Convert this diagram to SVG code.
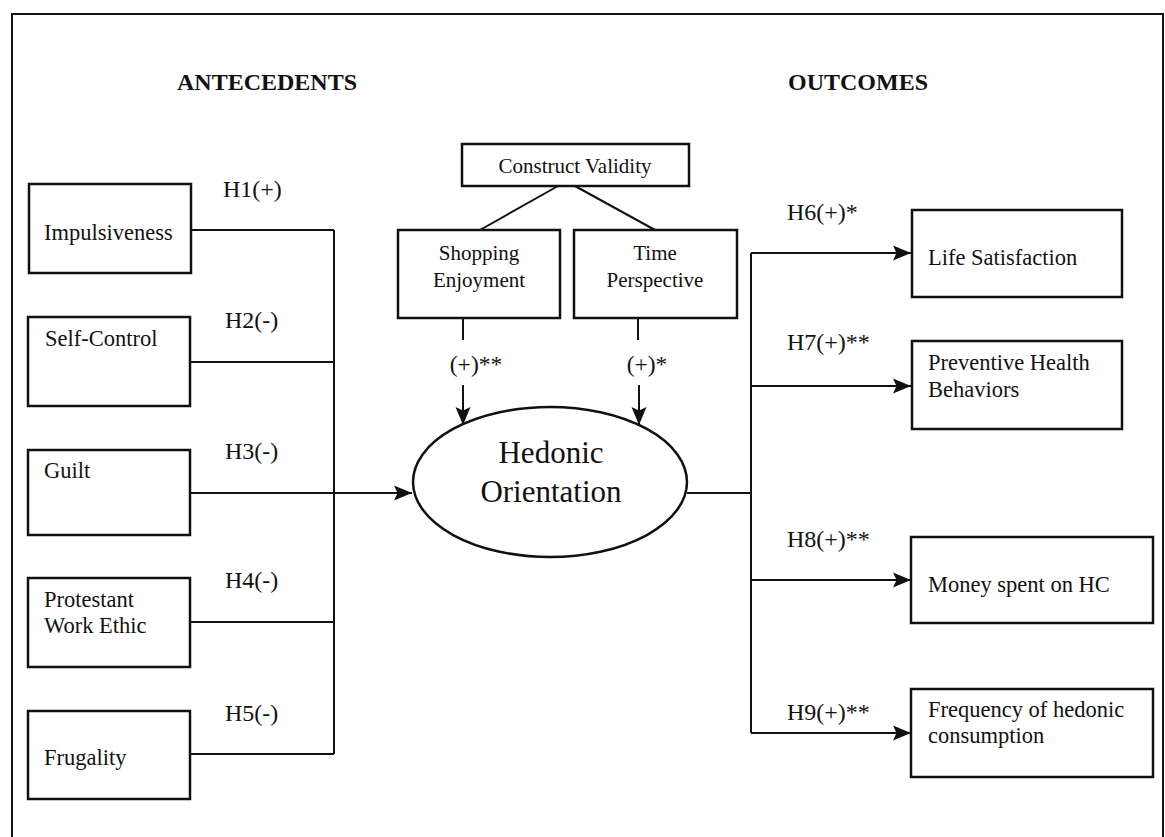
<svg xmlns="http://www.w3.org/2000/svg" width="1165" height="837" viewBox="0 0 1165 837">
<style>
.box{fill:#fff;stroke:#111;stroke-width:2.5}
.ln{fill:none;stroke:#111;stroke-width:2}
text{font-family:"Liberation Serif","Times New Roman",serif;fill:#111}
.lbl{font-size:22.5px}
.mid{font-size:21px;text-anchor:middle}
.hyp{font-size:24px}
.hd{font-size:24px;font-weight:bold}
.ell{font-size:31px;text-anchor:middle}
</style>
<defs>
<marker id="arr" markerUnits="userSpaceOnUse" markerWidth="20" markerHeight="18" refX="18" refY="9" orient="auto">
<path d="M0,1.5 L18,9 L0,16.5 L3.5,9 Z" fill="#111"/>
</marker>
</defs>
<rect width="1165" height="837" fill="#fff"/>
<path class="ln" d="M12,837 V14 H1163 V837"/>
<text class="hd" x="177" y="90">ANTECEDENTS</text>
<text class="hd" x="788" y="90">OUTCOMES</text>

<g id="connectors">
<path class="ln" d="M190,230 H334 M190,362 H334 M190,622 H334 M190,754 H334 M334,230 V754"/>
<path class="ln" d="M190,493 H412" marker-end="url(#arr)"/>
<path class="ln" d="M558,186 L480,230 M575,186 L655,230"/>
<path class="ln" d="M463,318 V340 M638,318 V340"/>
<path class="ln" d="M463,385 V425" marker-end="url(#arr)"/>
<path class="ln" d="M639,385 V425" marker-end="url(#arr)"/>
<path class="ln" d="M687,493 H751 M751,253 V733"/>
<path class="ln" d="M751,253 H911" marker-end="url(#arr)"/>
<path class="ln" d="M751,386 H911" marker-end="url(#arr)"/>
<path class="ln" d="M751,580 H911" marker-end="url(#arr)"/>
<path class="ln" d="M751,733 H911" marker-end="url(#arr)"/>
<text class="hyp" x="223" y="197">H1(+)</text>
<text class="hyp" x="225" y="328">H2(-)</text>
<text class="hyp" x="225" y="459">H3(-)</text>
<text class="hyp" x="225" y="588">H4(-)</text>
<text class="hyp" x="225" y="721">H5(-)</text>
<text class="hyp" x="787" y="220">H6(+)*</text>
<text class="hyp" x="787" y="350">H7(+)**</text>
<text class="hyp" x="787" y="547">H8(+)**</text>
<text class="hyp" x="787" y="720">H9(+)**</text>
<text class="hyp" x="476" y="372" text-anchor="middle" style="font-size:23.5px">(+)**</text>
<text class="hyp" x="647" y="372" text-anchor="middle" style="font-size:23.5px">(+)*</text>
</g>

<g id="impulsiveness"><rect class="box" x="29" y="184" width="162" height="89"/><text class="lbl" x="44" y="240">Impulsiveness</text></g>
<g id="self-control"><rect class="box" x="28" y="317" width="162" height="89"/><text class="lbl" x="45" y="346">Self-Control</text></g>
<g id="guilt"><rect class="box" x="28" y="450" width="162" height="85"/><text class="lbl" x="44" y="478">Guilt</text></g>
<g id="protestant"><rect class="box" x="28" y="578" width="162" height="89"/><text class="lbl" x="44" y="607">Protestant</text><text class="lbl" x="44" y="633">Work Ethic</text></g>
<g id="frugality"><rect class="box" x="28" y="711" width="162" height="88"/><text class="lbl" x="44" y="765">Frugality</text></g>

<g id="construct-validity"><rect class="box" x="462" y="144" width="227" height="42"/><text class="mid" x="575" y="173">Construct Validity</text></g>
<g id="shopping-enjoyment"><rect class="box" x="398" y="230" width="162" height="88"/><text class="mid" x="479" y="260">Shopping</text><text class="mid" x="479" y="287">Enjoyment</text></g>
<g id="time-perspective"><rect class="box" x="574" y="230" width="163" height="88"/><text class="mid" x="655" y="260">Time</text><text class="mid" x="655" y="287">Perspective</text></g>

<g id="hedonic-orientation"><ellipse class="box" cx="550" cy="482" rx="137" ry="75"/><text class="ell" x="551" y="463">Hedonic</text><text class="ell" x="551" y="502">Orientation</text></g>

<g id="life-satisfaction"><rect class="box" x="912" y="210" width="210" height="87"/><text class="lbl" x="928" y="265">Life Satisfaction</text></g>
<g id="preventive-health"><rect class="box" x="912" y="341" width="210" height="88"/><text class="lbl" x="928" y="370">Preventive Health</text><text class="lbl" x="928" y="397">Behaviors</text></g>
<g id="money-spent"><rect class="box" x="911" y="537" width="242" height="86"/><text class="lbl" x="928" y="592">Money spent on HC</text></g>
<g id="frequency"><rect class="box" x="911" y="689" width="242" height="88"/><text class="lbl" x="928" y="717">Frequency of hedonic</text><text class="lbl" x="928" y="743">consumption</text></g>
</svg>
